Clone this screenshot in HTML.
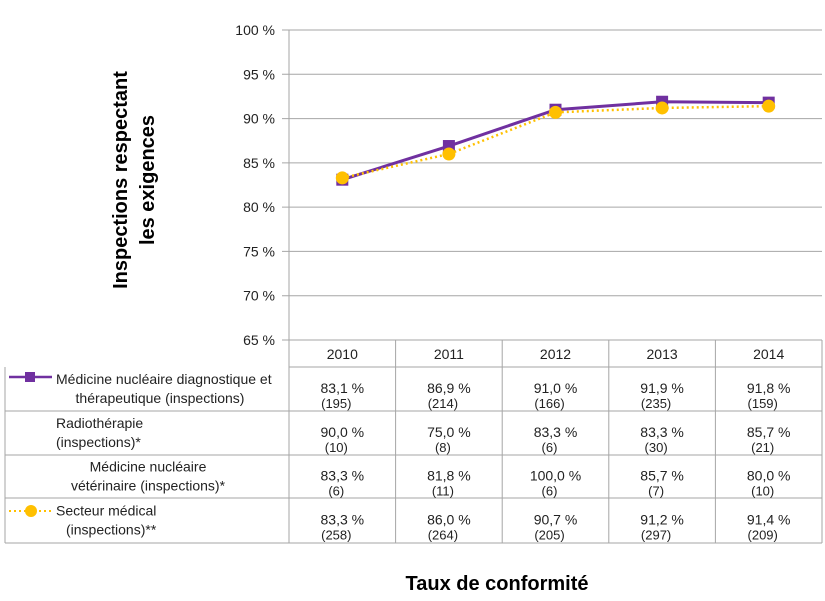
<!DOCTYPE html>
<html><head><meta charset="utf-8"><style>
body{margin:0;background:#fff;}
svg{display:block;font-family:"Liberation Sans",sans-serif;}
</style></head><body>
<svg id="c" width="825" height="601" viewBox="0 0 825 601">
<g id="grid"></g><g id="table"></g><g id="series"></g>
<text transform="translate(131,180) rotate(-90)" text-anchor="middle" font-size="20" font-weight="bold" fill="#000"><tspan x="0" dy="-4">Inspections respectant</tspan><tspan x="0" dy="27">les exigences</tspan></text>
<text x="497" y="590" text-anchor="middle" font-size="20" font-weight="bold" fill="#000">Taux de conformité</text>
</svg>
<script>
const categories=["2010","2011","2012","2013","2014"];
const yTicks=[65,70,75,80,85,90,95,100];
const seriesNames=["Médicine nucléaire diagnostique et|thérapeutique (inspections)","Radiothérapie|(inspections)*","Médicine nucléaire|vétérinaire (inspections)*","Secteur médical|(inspections)**"];
const nucDiag=[83.1,86.9,91.0,91.9,91.8];
const radio=[90.0,75.0,83.3,83.3,85.7];
const veterin=[83.3,81.8,100.0,85.7,80.0];
const medical=[83.3,86.0,90.7,91.2,91.4];
const nucDiagN=[195,214,166,235,159];
const radioN=[10,8,6,30,21];
const veterinN=[6,11,6,7,10];
const medicalN=[258,264,205,297,209];

const NS="http://www.w3.org/2000/svg";
const L=289,R=822,T=30,B=340,yMin=65,yMax=100;
const colW=(R-L)/categories.length;
const x=i=>L+colW*(i+0.5);
const y=v=>B-(v-yMin)/(yMax-yMin)*(B-T);
function mk(p,tag,a){const e=document.createElementNS(NS,tag);for(const k in a)e.setAttribute(k,a[k]);p.appendChild(e);return e;}
const grid=document.getElementById('grid'),tbl=document.getElementById('table'),ser=document.getElementById('series');
yTicks.forEach(t=>{
 const ln=mk(grid,'line',{x1:L-7,x2:R,y1:y(t),y2:y(t),stroke:'#a6a6a6','stroke-width':1});
 
 
 const tx=mk(grid,'text',{x:L-14,y:y(t)+5,'text-anchor':'end','font-size':14,fill:'#222'});
 tx.textContent=t+' %';
 
 
});
const ax=mk(grid,'line',{x1:L,x2:L,y1:T,y2:B,stroke:'#a6a6a6'});


const rowY=[340,367,411,455,498,543];
const g=(a)=>mk(tbl,'line',Object.assign({stroke:'#a6a6a6','stroke-width':1},a));
for(let r=1;r<rowY.length;r++) g({x1:r==1?L:5,x2:R,y1:rowY[r],y2:rowY[r]});
g({x1:5,x2:5,y1:367,y2:543});
for(let i=0;i<=categories.length;i++) g({x1:L+colW*i,x2:L+colW*i,y1:340,y2:543});
categories.forEach((c,i)=>{
 const t=mk(tbl,'text',{x:x(i),y:359,'text-anchor':'middle','font-size':14,fill:'#222'});
 t.textContent=c;
 
 
});
const vals=[nucDiag,radio,veterin,medical],ns=[nucDiagN,radioN,veterinN,medicalN];
vals.forEach((arr,r)=>{
 const top=rowY[r+1],bot=rowY[r+2],mid=(top+bot)/2;
 arr.forEach((v,i)=>{
  const t=mk(tbl,'text',{x:x(i),y:mid+4,'text-anchor':'middle','font-size':14,fill:'#222'});
  t.textContent=v.toFixed(1).replace('.',',')+' %';
  
  
  const n=mk(tbl,'text',{x:x(i)-6,y:mid+19,'text-anchor':'middle','font-size':13,fill:'#222'});
  n.textContent='('+ns[r][i]+')';
  
  
 });
 const lines=seriesNames[r].split('|');
 const xs=r==0?[56,160]:(r==1?[56,56]:(r==2?[148,148]:[56,66]));
 const an=r==0?['start','middle']:(r==2?['middle','middle']:['start','start']);
 lines.forEach((s,k)=>{
  const t=mk(tbl,'text',{x:xs[k],y:mid-5+k*19,'text-anchor':an[k],'font-size':14,fill:'#222'});
  t.textContent=s;
  
  
 });
});
mk(tbl,'line',{x1:9,x2:52,y1:377,y2:377,stroke:'#7030a0','stroke-width':2.5});
mk(tbl,'rect',{x:25,y:372,width:10,height:10,fill:'#7030a0'});
mk(tbl,'line',{x1:9,x2:52,y1:511,y2:511,stroke:'#ffc000','stroke-width':2,'stroke-dasharray':'2,3'});
mk(tbl,'circle',{cx:31,cy:511,r:6,fill:'#ffc000'});
function line(arr,opts,name){
 const p=mk(ser,'polyline',Object.assign({fill:'none',points:arr.map((v,i)=>x(i)+','+y(v)).join(' ')},opts));
 
 
}
line(nucDiag,{stroke:'#7030a0','stroke-width':3},'line-nuclear-diagnostic');
nucDiag.forEach((v,i)=>{const r=mk(ser,'rect',{x:x(i)-6,y:y(v)-6,width:12,height:12,fill:'#7030a0'});
 
 });
line(medical,{stroke:'#ffc000','stroke-width':2.5,'stroke-dasharray':'2,3'},'line-medical-sector');
medical.forEach((v,i)=>{const c=mk(ser,'circle',{cx:x(i),cy:y(v),r:6.5,fill:'#ffc000'});
 
 });
</script>
</body></html>
